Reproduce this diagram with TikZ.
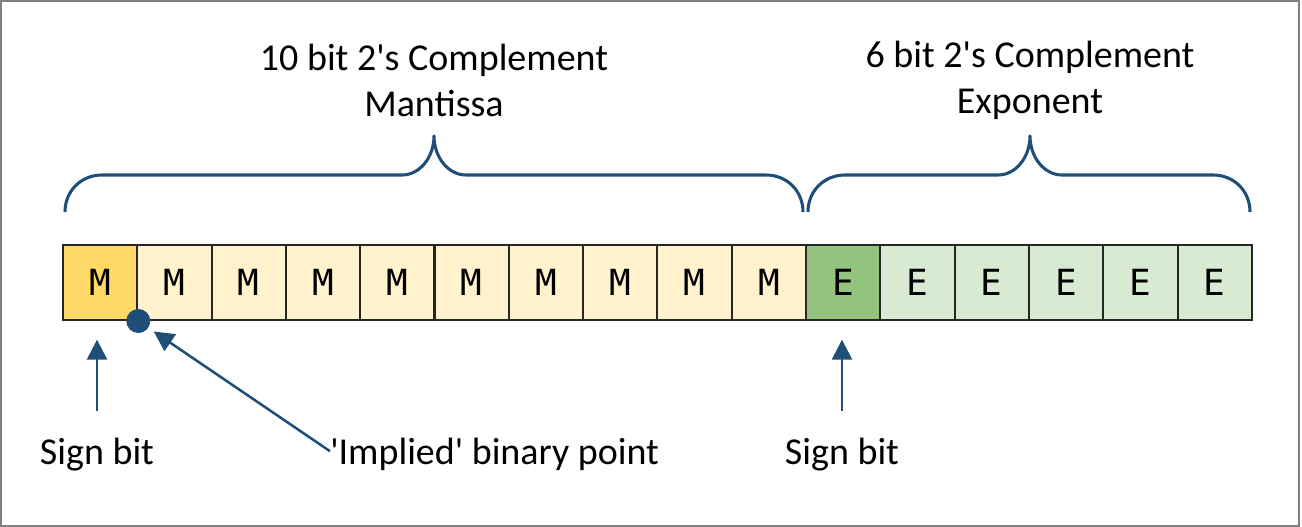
\documentclass[tikz,border=0pt]{standalone}
\usepackage{fontspec}
\setmainfont{Carlito}
\setmonofont{DejaVu Sans Mono}
\usetikzlibrary{arrows.meta}

\definecolor{bracecol}{HTML}{1F4E79}
\definecolor{msign}{HTML}{FFD966}
\definecolor{mbit}{HTML}{FFF2CC}
\definecolor{esign}{HTML}{93C47D}
\definecolor{ebit}{HTML}{D9EAD3}
\definecolor{framecol}{HTML}{808080}

\tikzset{
    bitcell/.style={draw=black!85, line width=1.5pt, minimum width=55.7pt,
        minimum height=56.25pt, inner sep=0pt, font=\ttfamily\fontsize{27}{30}\selectfont},
    brace/.style={draw=bracecol, line width=2.3pt, line join=round},
    ptr/.style={draw=bracecol, line width=1.9pt, -{Triangle[length=15pt, width=15pt]}},
    label/.style={inner sep=0pt, font=\fontsize{28.5}{34.5}\selectfont, align=center}
}

\begin{document}
\begin{tikzpicture}[x=0.75pt, y=-0.75pt]
    \useasboundingbox (0, 0) rectangle (1302, 527);
    \draw[framecol, line width=2pt] (1, 1) rectangle (1299, 526);

    % mantissa and exponent cells
    \foreach \i in {0,...,9}
        \node[bitcell, fill=mbit] (m\i) at (63+74.3*\i+37.15, 282.5) {M};
    \foreach \i in {0,...,5}
        \node[bitcell, fill=ebit] (e\i) at (806+74.3*\i+37.15, 282.5) {E};
    \node[bitcell, fill=msign] at (m0) {M};
    \node[bitcell, fill=esign] at (e0) {E};

    % braces
    \draw[brace] (65, 212) .. controls (65, 191) and (81, 175) .. (102, 175) -- (402, 175)
        .. controls (420, 175) and (434, 157) .. (434, 136)
        .. controls (434, 157) and (448, 175) .. (466, 175)
        -- (766, 175) .. controls (787, 175) and (803, 191) .. (803, 212);
    \draw[brace] (808, 212) .. controls (808, 191) and (824, 175) .. (845, 175) -- (998, 175)
        .. controls (1016, 175) and (1030, 157) .. (1030, 136)
        .. controls (1030, 157) and (1044, 175) .. (1062, 175)
        -- (1213, 175) .. controls (1234, 175) and (1250, 191) .. (1250, 212);

    \node[label] (mtitle) at (434, 80) {10 bit 2\textquotesingle s Complement\\Mantissa};
    \node[label] (etitle) at (1030, 80) {6 bit 2\textquotesingle s Complement\\Exponent};

    % binary point
    \fill[bracecol] (m0.south east) circle (9pt);
    \coordinate (bp) at (m0.south east);

    % pointer labels
    \node[label, anchor=base] (msgn) at (97, 464) {Sign bit};
    \node[label, anchor=base] (esgn) at (842, 464) {Sign bit};
    \node[label, anchor=base west] (bpt) at (330, 464) {\textquotesingle Implied\textquotesingle{} binary point};

    \draw[ptr, shorten <=20pt, shorten >=14pt] (msgn.north) -- (msgn.north |- m0.south);
    \draw[ptr, shorten <=20pt, shorten >=14pt] (esgn.north) -- (esgn.north |- e0.south);
    \draw[ptr, shorten >=14pt] ([yshift=2pt]bpt.west) -- (bp);
\end{tikzpicture}
\end{document}
